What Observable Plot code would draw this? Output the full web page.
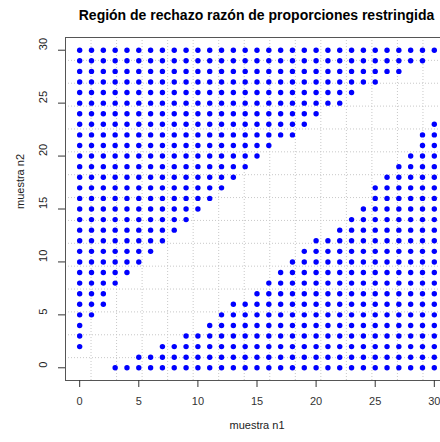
<!DOCTYPE html>
<html>
<head>
<meta charset="utf-8">
<script src="https://cdn.jsdelivr.net/npm/d3@7"></script>
<script src="https://cdn.jsdelivr.net/npm/@observablehq/plot@0.6"></script>
<style>
  html, body { margin: 0; padding: 0; background: #fff; overflow: hidden; }
  #title { position: relative; height: 30px; width: 383px; margin-left: 65px;
    font: bold 14px "Liberation Sans", Arial, sans-serif; color: #000;
    text-align: center; line-height: 30px; white-space: nowrap; }
  #chart svg { display: block; overflow: visible; }
</style>
</head>
<body>
<div id="title">Región de rechazo razón de proporciones restringida</div>
<div id="chart"></div>
<script>
// Sample size n1 (columns)
const n1Values = [0,1,2,3,4,5,6,7,8,9,10,11,12,13,14,15,16,17,18,19,20,21,22,23,24,25,26,27,28,29,30];
// Upper rejection region: n2 from this value up to 30
const upperFrom = [2,5,6,8,9,10,11,12,13,14,15,16,17,18,19,20,21,22,22,23,24,25,25,26,27,27,28,28,29,29,30];
// Lower rejection region: n2 from 0 up to this value (null = none)
const lowerTo = [null,null,null,0,0,1,1,2,2,3,3,4,5,6,6,7,8,9,10,11,12,12,13,14,15,17,18,19,20,22,23];
const n2Max = 30;
const xTicks = [0,5,10,15,20,25,30];
const yTicks = [0,5,10,15,20,25,30];

const points = [];
n1Values.forEach((n1, i) => {
  for (let n2 = upperFrom[i]; n2 <= n2Max; n2++) points.push({n1, n2});
  if (lowerTo[i] !== null) for (let n2 = 0; n2 <= lowerTo[i]; n2++) points.push({n1, n2});
});

// R-style usr range (4% extension) and grid(15, 15)
const lo = -1.2, hi = 31.2;
const gridVals = d3.range(1, 15).map(k => lo + k * (hi - lo) / 15);

const font = '"Liberation Sans", Arial, sans-serif';
const chart = Plot.plot({
  width: 440,
  height: 412,
  marginTop: 7,
  marginBottom: 62,
  marginLeft: 65,
  marginRight: -8,
  style: {fontFamily: font, fontSize: "11px", background: "white", color: "#222"},
  x: {domain: [lo, hi]},
  y: {domain: [lo, hi]},
  marks: [
    Plot.ruleX(gridVals, {stroke: "#c8c8c8", strokeDasharray: "1,2"}),
    Plot.ruleY(gridVals, {stroke: "#c8c8c8", strokeDasharray: "1,2"}),
    Plot.dot(points, {x: "n1", y: "n2", r: 2.7, fill: "#0000ff", stroke: null}),
    Plot.frame({stroke: "#555"}),
    Plot.axisX({ticks: xTicks, tickSize: 7, tickPadding: 10, fontSize: 11, label: null, color: "#333"}),
    Plot.axisY({ticks: yTicks, tickSize: 7, tickFormat: () => "", label: null, color: "#333"}),
    Plot.text(yTicks, {y: d => d, text: d => String(d), frameAnchor: "left", dx: -22, rotate: -90, fontSize: 11, fill: "#222"}),
    Plot.text(["muestra n1"], {frameAnchor: "bottom", dy: 48, fontSize: 11, fill: "#222"}),
    Plot.text(["muestra n2"], {frameAnchor: "left", dx: -45, rotate: -90, fontSize: 11, fill: "#222"})
  ]
});
document.getElementById("chart").appendChild(chart);
</script>
</body>
</html>
